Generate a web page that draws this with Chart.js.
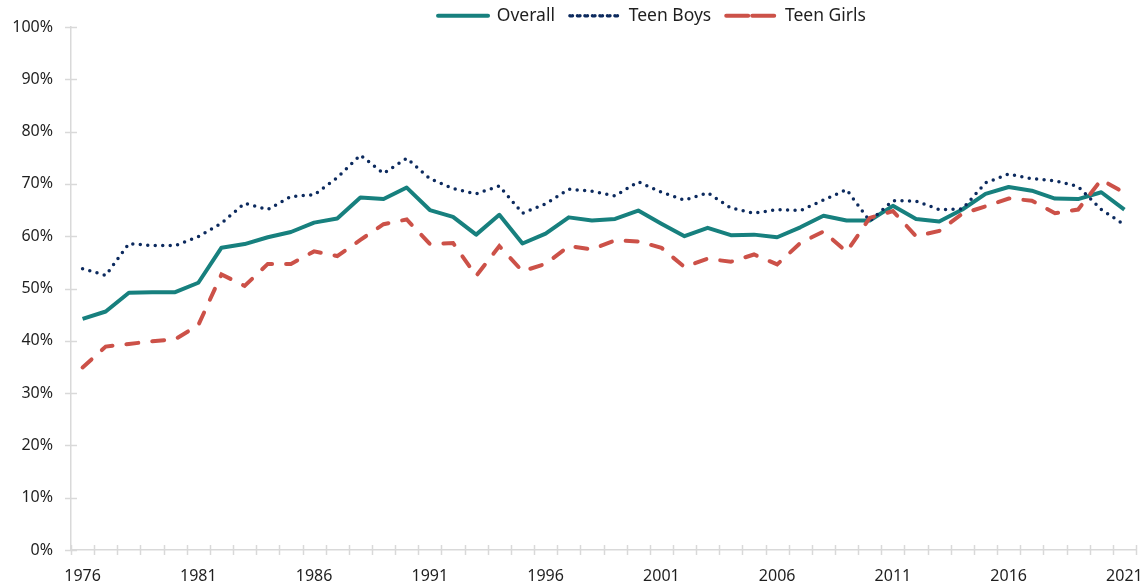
<!DOCTYPE html>
<html>
<head>
<meta charset="utf-8">
<script src="https://cdn.jsdelivr.net/npm/chart.js@4.4.1/dist/chart.umd.min.js"></script>
<style>
  html, body { margin: 0; padding: 0; background: #fff; }
  #wrap { width: 1148px; height: 586px; }
</style>
</head>
<body>
<div id="wrap"><canvas id="chart"></canvas></div>
<script>
// years on the x axis
var years = [];
for (var y = 1976; y <= 2021; y++) years.push(String(y));

var overall = [44.2, 45.6, 49.2, 49.3, 49.3, 51.1, 57.8, 58.5, 59.8, 60.8,
  62.6, 63.4, 67.4, 67.1, 69.3, 65.0, 63.7, 60.3, 64.1, 58.6,
  60.5, 63.6, 63.0, 63.3, 64.9, 62.4, 60.0, 61.6, 60.2, 60.3,
  59.8, 61.7, 63.9, 63.0, 63.0, 65.8, 63.3, 62.8, 65.1, 68.1,
  69.4, 68.7, 67.2, 67.1, 68.4, 65.1];

var teenBoys = [53.8, 52.5, 58.6, 58.2, 58.2, 59.9, 62.5, 66.3, 65.1, 67.6,
  67.9, 71.2, 75.5, 72.0, 74.9, 71.0, 69.1, 68.1, 69.6, 64.4,
  66.2, 69.0, 68.6, 67.7, 70.4, 68.4, 66.9, 68.3, 65.4, 64.4,
  65.1, 64.9, 66.9, 68.9, 62.9, 66.8, 66.7, 65.1, 65.2, 70.2,
  71.9, 71.0, 70.6, 69.5, 65.1, 62.2];

var teenGirls = [34.9, 38.9, 39.4, 39.9, 40.3, 43.0, 52.7, 50.5, 54.7, 54.7,
  57.1, 56.2, 59.3, 62.3, 63.2, 58.5, 58.7, 52.4, 58.1, 53.3,
  54.7, 58.1, 57.5, 59.2, 59.0, 57.8, 54.1, 55.7, 55.1, 56.5,
  54.6, 58.7, 60.9, 57.0, 63.5, 64.8, 60.0, 61.0, 64.3, 65.7,
  67.2, 66.8, 64.4, 65.1, 70.8, 68.3];

var yTicks = [0, 10, 20, 30, 40, 50, 60, 70, 80, 90, 100];

var axisColor = '#d9d9d9';
var textColor = '#1f1f1f';
var clear = 'rgba(0,0,0,0)';

// little tick marks that cross the axis lines, like the original
var crossTicks = {
  id: 'crossTicks',
  afterDraw: function(chart) {
    var ctx = chart.ctx;
    var xs = chart.scales.x, ys = chart.scales.y;
    ctx.save();
    ctx.strokeStyle = axisColor;
    ctx.lineWidth = 1.5;
    ctx.beginPath();
    var step = (xs.right - xs.left) / years.length;
    for (var i = 0; i <= years.length; i++) {
      var px = Math.round(xs.left + i * step) + 0.5;
      ctx.moveTo(px, ys.bottom - 5);
      ctx.lineTo(px, ys.bottom + 5);
    }
    yTicks.forEach(function(v) {
      var py = Math.round(ys.getPixelForValue(v)) + 0.5;
      ctx.moveTo(xs.left - 6, py);
      ctx.lineTo(xs.left + 6, py);
    });
    ctx.stroke();
    ctx.restore();
  }
};

// the legend in the original sits a bit right of centre
var legendShift = {
  id: 'legendShift',
  afterLayout: function(chart) {
    var lg = chart.legend;
    if (!lg) return;
    lg.left += 84;
    lg.right += 84;
  }
};

Chart.defaults.font.family = '"Noto Sans", "Open Sans", sans-serif';
Chart.defaults.font.size = 16;
Chart.defaults.color = textColor;

new Chart(document.getElementById('chart'), {
  type: 'line',
  data: {
    labels: years,
    datasets: [
      {
        label: 'Overall',
        data: overall,
        borderColor: '#17807e',
        backgroundColor: clear,
        borderWidth: 4,
        borderJoinStyle: 'round',
        pointRadius: 0,
        tension: 0,
        order: 3
      },
      {
        label: 'Teen Boys',
        data: teenBoys,
        borderColor: '#0c2a5e',
        backgroundColor: clear,
        borderWidth: 3.5,
        borderDash: [0, 7.5],
        borderCapStyle: 'round',
        pointRadius: 0,
        tension: 0,
        order: 2
      },
      {
        label: 'Teen Girls',
        data: teenGirls,
        borderColor: '#cc5148',
        backgroundColor: clear,
        borderWidth: 4,
        borderDash: [12, 14],
        borderCapStyle: 'round',
        pointRadius: 0,
        tension: 0,
        order: 1
      }
    ]
  },
  options: {
    responsive: true,
    maintainAspectRatio: false,
    animation: false,
    layout: { padding: { left: 0, right: 12, top: -8, bottom: 0 } },
    plugins: {
      tooltip: { enabled: false },
      legend: {
        position: 'top',
        maxHeight: 35,
        labels: {
          boxWidth: 50,
          boxHeight: 0,
          padding: 15,
          color: textColor,
          font: { size: 17.5 },
          sort: function(a, b) { return a.datasetIndex - b.datasetIndex; }
        }
      }
    },
    scales: {
      x: {
        offset: true,
        grid: { display: true, offset: true, drawOnChartArea: false, drawTicks: true, tickLength: 17, tickColor: clear },
        border: { color: axisColor, width: 1.5 },
        ticks: {
          autoSkip: false,
          maxRotation: 0,
          padding: 0,
          callback: function(val, idx) {
            return (idx % 5 === 0) ? years[idx] : '';
          }
        },
        afterFit: function(scale) { scale.height = 36; }
      },
      y: {
        min: 0,
        max: 100,
        grid: { display: true, drawOnChartArea: false, drawTicks: true, tickLength: 18, tickColor: clear },
        border: { color: axisColor, width: 1.5 },
        ticks: {
          stepSize: 10,
          padding: 0,
          callback: function(v) { return v + '%'; }
        },
        afterFit: function(scale) { scale.width = 71; }
      }
    }
  },
  plugins: [crossTicks, legendShift]
});
</script>
</body>
</html>
